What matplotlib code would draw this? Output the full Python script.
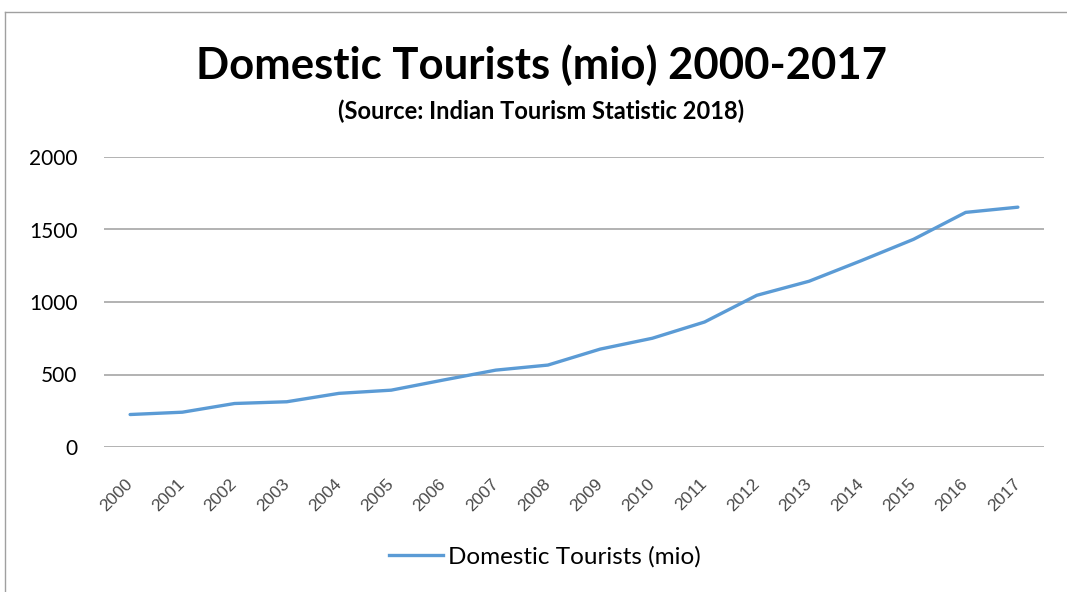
import matplotlib
matplotlib.use("Agg")
import matplotlib.pyplot as plt
from matplotlib.lines import Line2D

years = [str(y) for y in range(2000, 2018)]
tourists = [224, 240, 300, 312, 370, 392, 462, 530, 565, 675, 750, 862, 1046, 1143, 1285, 1432, 1618, 1654]
y_ticks = [0, 500, 1000, 1500, 2000]

title = "Domestic Tourists (mio) 2000-2017"
subtitle = "(Source: Indian Tourism Statistic 2018)"
series_name = "Domestic Tourists (mio)"

plt.rcParams["font.family"] = ["Lato", "DejaVu Sans"]

W, H = 1067, 592
fig = plt.figure(figsize=(W / 100, H / 100), dpi=100)

# plot area in pixel terms: x 104..1044, y 157 (2000) .. 447 (0)
ax = fig.add_axes([104 / W, 1 - 447 / H, 940 / W, 290 / H])
ax.plot(range(len(years)), tourists, color="#5B9BD5", lw=2.4, solid_capstyle="round")
ax.set_xlim(-0.5, len(years) - 0.5)
ax.set_ylim(0, 2000)
ax.set_yticks(y_ticks)
ax.set_yticklabels([str(v) for v in y_ticks], fontsize=15)
ax.set_xticks(range(len(years)))
ax.set_xticklabels(years, rotation=45, ha="right", va="center", rotation_mode="anchor",
                   fontsize=12.5, color="#4a4a4a", family=["Liberation Sans", "DejaVu Sans"])
ax.tick_params(axis="both", length=0)
ax.tick_params(axis="x", pad=25)
ax.tick_params(axis="y", pad=19)
ax.grid(axis="y", color="#A6A6A6", lw=1.2)
ax.set_axisbelow(True)
for s in ax.spines.values():
    s.set_visible(False)

fig.text(541 / W, 1 - 65 / H, title, ha="center", va="center",
         fontsize=31.4, fontweight="bold")
fig.text(541 / W, 1 - 111 / H, subtitle, ha="center", va="center",
         fontsize=17, fontweight="bold")

# chart border (top and left edges visible)
fig.add_artist(Line2D([5 / W, 1.0], [1 - 12 / H, 1 - 12 / H], color="#A0A0A0", lw=1.0))
fig.add_artist(Line2D([5 / W, 5 / W], [0, 1 - 12 / H], color="#A0A0A0", lw=1.0))

handle = Line2D([], [], color="#5B9BD5", lw=2.4)
fig.legend([handle], [series_name], loc="center", bbox_to_anchor=(545 / W, 1 - 557 / H),
           frameon=False, fontsize=17.5, handlelength=2.2, handletextpad=0.2)

fig.savefig("out.png", dpi=100)
